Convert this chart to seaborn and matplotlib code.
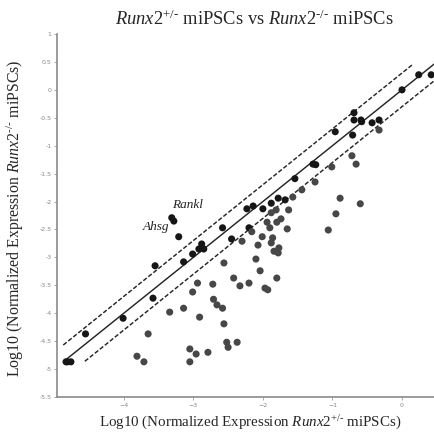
"""Scatter of log10 normalized expression, Runx2+/- vs Runx2-/- miPSCs."""
import numpy as np
import pandas as pd
import matplotlib
matplotlib.use('Agg')
import matplotlib.pyplot as plt
import seaborn as sns

# log10 normalized expression, Runx2+/- (x) and Runx2-/- (y)
het_expr = [-4.83, -4.81, -4.76, -4.55, -4.01, -3.58, -3.55, -3.31, -3.28, -3.21,
            -3.14, -3.01, -2.92, -2.88, -2.85, -2.58, -2.45, -2.23, -2.20, -2.14,
            -2.00, -1.88, -1.78, -1.68, -1.54, -1.28, -1.24, -0.96, -0.71, -0.69,
            -0.69, -0.59, -0.58, -0.43, -0.33, 0.00, 0.24, 0.42,
            -3.81, -3.71, -3.65, -3.34, -3.14, -3.05, -3.05, -3.01, -2.96, -2.94,
            -2.91, -2.79, -2.72, -2.71, -2.66, -2.58, -2.56, -2.56, -2.52, -2.50,
            -2.37, -2.42, -2.33, -2.30, -2.20, -2.16, -2.10, -2.07, -2.04, -2.01,
            -1.97, -1.93, -1.94, -1.90, -1.88, -1.88, -1.86, -1.84, -1.81, -1.80,
            -1.80, -1.78, -1.77, -1.74, -1.65, -1.63, -1.57, -1.44, -1.25, -1.06,
            -1.01, -0.95, -0.89, -0.72, -0.66, -0.60, -0.33]
ko_expr = [-4.87, -4.87, -4.87, -4.37, -4.09, -3.73, -3.15, -2.29, -2.35, -2.63,
           -3.08, -2.94, -2.85, -2.76, -2.85, -2.47, -2.67, -2.13, -2.47, -2.08,
           -2.13, -2.03, -1.94, -1.97, -1.59, -1.33, -1.34, -0.75, -0.81, -0.41,
           -0.54, -0.54, -0.57, -0.59, -0.54, 0.00, 0.27, 0.27,
           -4.77, -4.87, -4.37, -3.98, -3.91, -4.64, -4.87, -3.62, -4.73, -3.46,
           -4.07, -4.70, -3.48, -3.75, -3.85, -3.91, -3.10, -4.19, -4.52, -4.61,
           -4.52, -3.37, -3.51, -2.71, -3.46, -2.54, -3.03, -2.78, -3.24, -2.63,
           -3.55, -3.58, -2.37, -2.47, -2.20, -2.74, -2.65, -2.89, -2.15, -2.37,
           -3.37, -2.92, -2.83, -2.31, -2.49, -2.15, -1.92, -1.79, -1.65, -2.51,
           -1.38, -2.22, -1.94, -1.18, -1.33, -2.04, -0.72]

labels = ['Rankl', 'Ahsg']
label_x = [-3.08, -3.53]
label_y = [-2.06, -2.46]

fold = np.log10(2)
line_x = {'solid': [-4.85, 0.6], 'upper': [-4.87, 0.16], 'lower': [-4.56, 0.6]}

df = pd.DataFrame({'het': het_expr, 'ko': ko_expr})
df['group'] = np.where(df['ko'] - df['het'] < -fold, 'down', 'same')

sns.set_style('white')
plt.rcParams['font.family'] = ['Liberation Serif', 'DejaVu Serif']
plt.rcParams['mathtext.fontset'] = 'custom'
plt.rcParams['mathtext.rm'] = 'Liberation Serif'
plt.rcParams['mathtext.it'] = 'Liberation Serif:italic'

HY = '\u2010'  # plain hyphen, keeps mathtext from drawing a long minus
het_tex = r'$\mathit{Runx2}^{+/' + HY + '}$'
ko_tex = r'$\mathit{Runx2}^{' + HY + '/' + HY + '}$'

fig = plt.figure(figsize=(4.34, 4.34), dpi=100)
ax = fig.add_axes([57 / 434, 37 / 434, 377 / 434, 363 / 434])

sns.scatterplot(data=df, x='het', y='ko', hue='group',
                palette={'same': '#161616', 'down': '#474747'},
                s=26, linewidth=0, legend=False, ax=ax, zorder=3)

for key, offset, ls in [('solid', 0, '-'), ('upper', fold, (0, (3, 1.4))),
                        ('lower', -fold, (0, (3, 1.4)))]:
    xs = np.array(line_x[key])
    ax.plot(xs, xs + offset, color='#262626', lw=1.05, linestyle=ls, zorder=2)

for txt, tx, ty in zip(labels, label_x, label_y):
    ax.text(tx, ty, txt, fontsize=9.5, style='italic', ha='center', va='center',
            color='#222222')

ax.set_xlim(-4.96, 0.46)
ax.set_ylim(-5.5, 1.0)
ax.set_xticks([-4, -3, -2, -1, 0])
ax.set_yticks(np.arange(-5.5, 1.01, 0.5))
ax.set_yticklabels([f'{v:g}' for v in np.arange(-5.5, 1.01, 0.5)])
ax.tick_params(axis='both', labelsize=4.5, labelcolor='#888888', colors='#999999',
               length=2, width=0.6, pad=2, direction='out', left=True, bottom=True)
for lab in ax.get_xticklabels() + ax.get_yticklabels():
    lab.set_fontfamily('DejaVu Sans')
for side in ['top', 'right']:
    ax.spines[side].set_visible(False)
for side in ['left', 'bottom']:
    ax.spines[side].set_color('#8a8a8a')
    ax.spines[side].set_linewidth(1.2)
ax.set_xlabel('')
ax.set_ylabel('')

fig.text(254 / 434, 1 - 19 / 434, het_tex + ' miPSCs vs ' + ko_tex + ' miPSCs',
         fontsize=13.3, ha='center', va='center')
fig.text(250 / 434, 1 - 423 / 434,
         'Log10 (Normalized Expression ' + het_tex + ' miPSCs)',
         fontsize=10.8, ha='center', va='center')
fig.text(15 / 434, 1 - 218 / 434,
         'Log10 (Normalized Expression ' + ko_tex + ' miPSCs)',
         fontsize=11.4, ha='center', va='center', rotation=90)

fig.savefig('out.png', dpi=100)
